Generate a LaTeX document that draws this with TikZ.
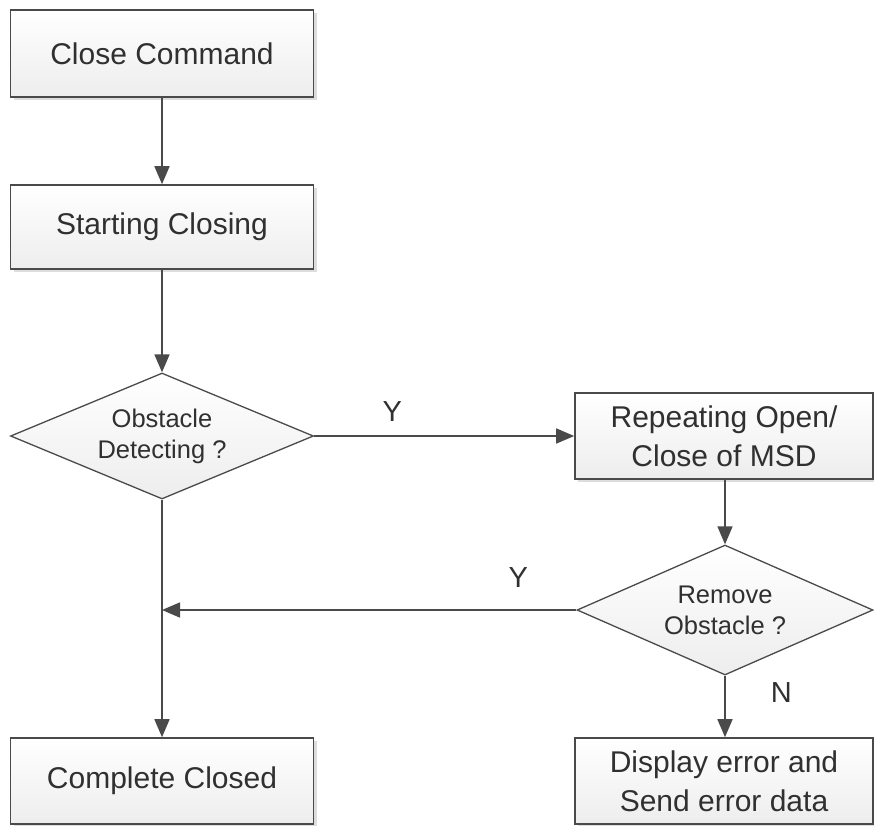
\documentclass[tikz,border=0pt]{standalone}
\usepackage{fontspec}
\setmainfont{Liberation Sans}
\usetikzlibrary{shapes.geometric,arrows.meta,shadows}
\definecolor{edge}{HTML}{4A4A4A}
\definecolor{txt}{HTML}{303030}
\tikzset{
  boxnode/.style={draw=edge, line width=1.6pt, rectangle, top color=white, bottom color=gray!14,
    drop shadow={shadow xshift=3pt, shadow yshift=-3pt, fill=gray!45, opacity=0.6},
    text=txt, font=\fontsize{30}{39}\selectfont, align=center, inner sep=0pt},
  decnode/.style={draw=edge, line width=1.3pt, diamond, aspect=2.35, top color=white, bottom color=gray!14,
    text=txt, font=\fontsize{25.5}{31}\selectfont, align=center, inner sep=0pt},
  conn/.style={draw=edge, line width=1.6pt},
  arr/.style={conn, -{Triangle[length=18pt,width=15pt]}},
  lbl/.style={text=txt, font=\fontsize{29}{34}\selectfont, inner sep=0pt}
}
\begin{document}
\begin{tikzpicture}[x=1pt,y=-1pt]
\useasboundingbox (0,0) rectangle (874,825);
\node[boxnode, minimum width=303pt, minimum height=87pt] (cmd) at (162,53.5) {Close Command};
\node[boxnode, minimum width=303pt, minimum height=84pt] (start) at (162,227) {Starting Closing};
\node[decnode, minimum width=303pt, minimum height=126pt] (obs) at (162,436) {Obstacle\\Detecting ?};
\node[boxnode, minimum width=298pt, minimum height=86pt] (rep) at (724,436) {Repeating Open/\\Close of MSD};
\node[decnode, minimum width=296pt, minimum height=130pt] (rem) at (725,610) {Remove\\Obstacle ?};
\node[boxnode, minimum width=303pt, minimum height=86pt] (done) at (162,781) {Complete Closed};
\node[boxnode, minimum width=298pt, minimum height=86pt] (disp) at (724,781) {Display error and\\Send error data};
\coordinate (join) at (162,610);
\draw[arr] (cmd) -- (start);
\draw[arr] (start) -- (obs);
\draw[arr] (obs) -- (rep) node[lbl, pos=0.3, above=14pt] (y1) {Y};
\draw[arr] (rep.south -| rem.north) -- (rem);
\draw[arr] (rem) -- (join) node[lbl, pos=0.14, above=22pt] (y2) {Y};
\draw[arr] (obs) -- (done);
\draw[arr] (rem) -- (rem |- disp.north) node[lbl, pos=0.28, right=45pt] (n1) {N};
\end{tikzpicture}
\end{document}
